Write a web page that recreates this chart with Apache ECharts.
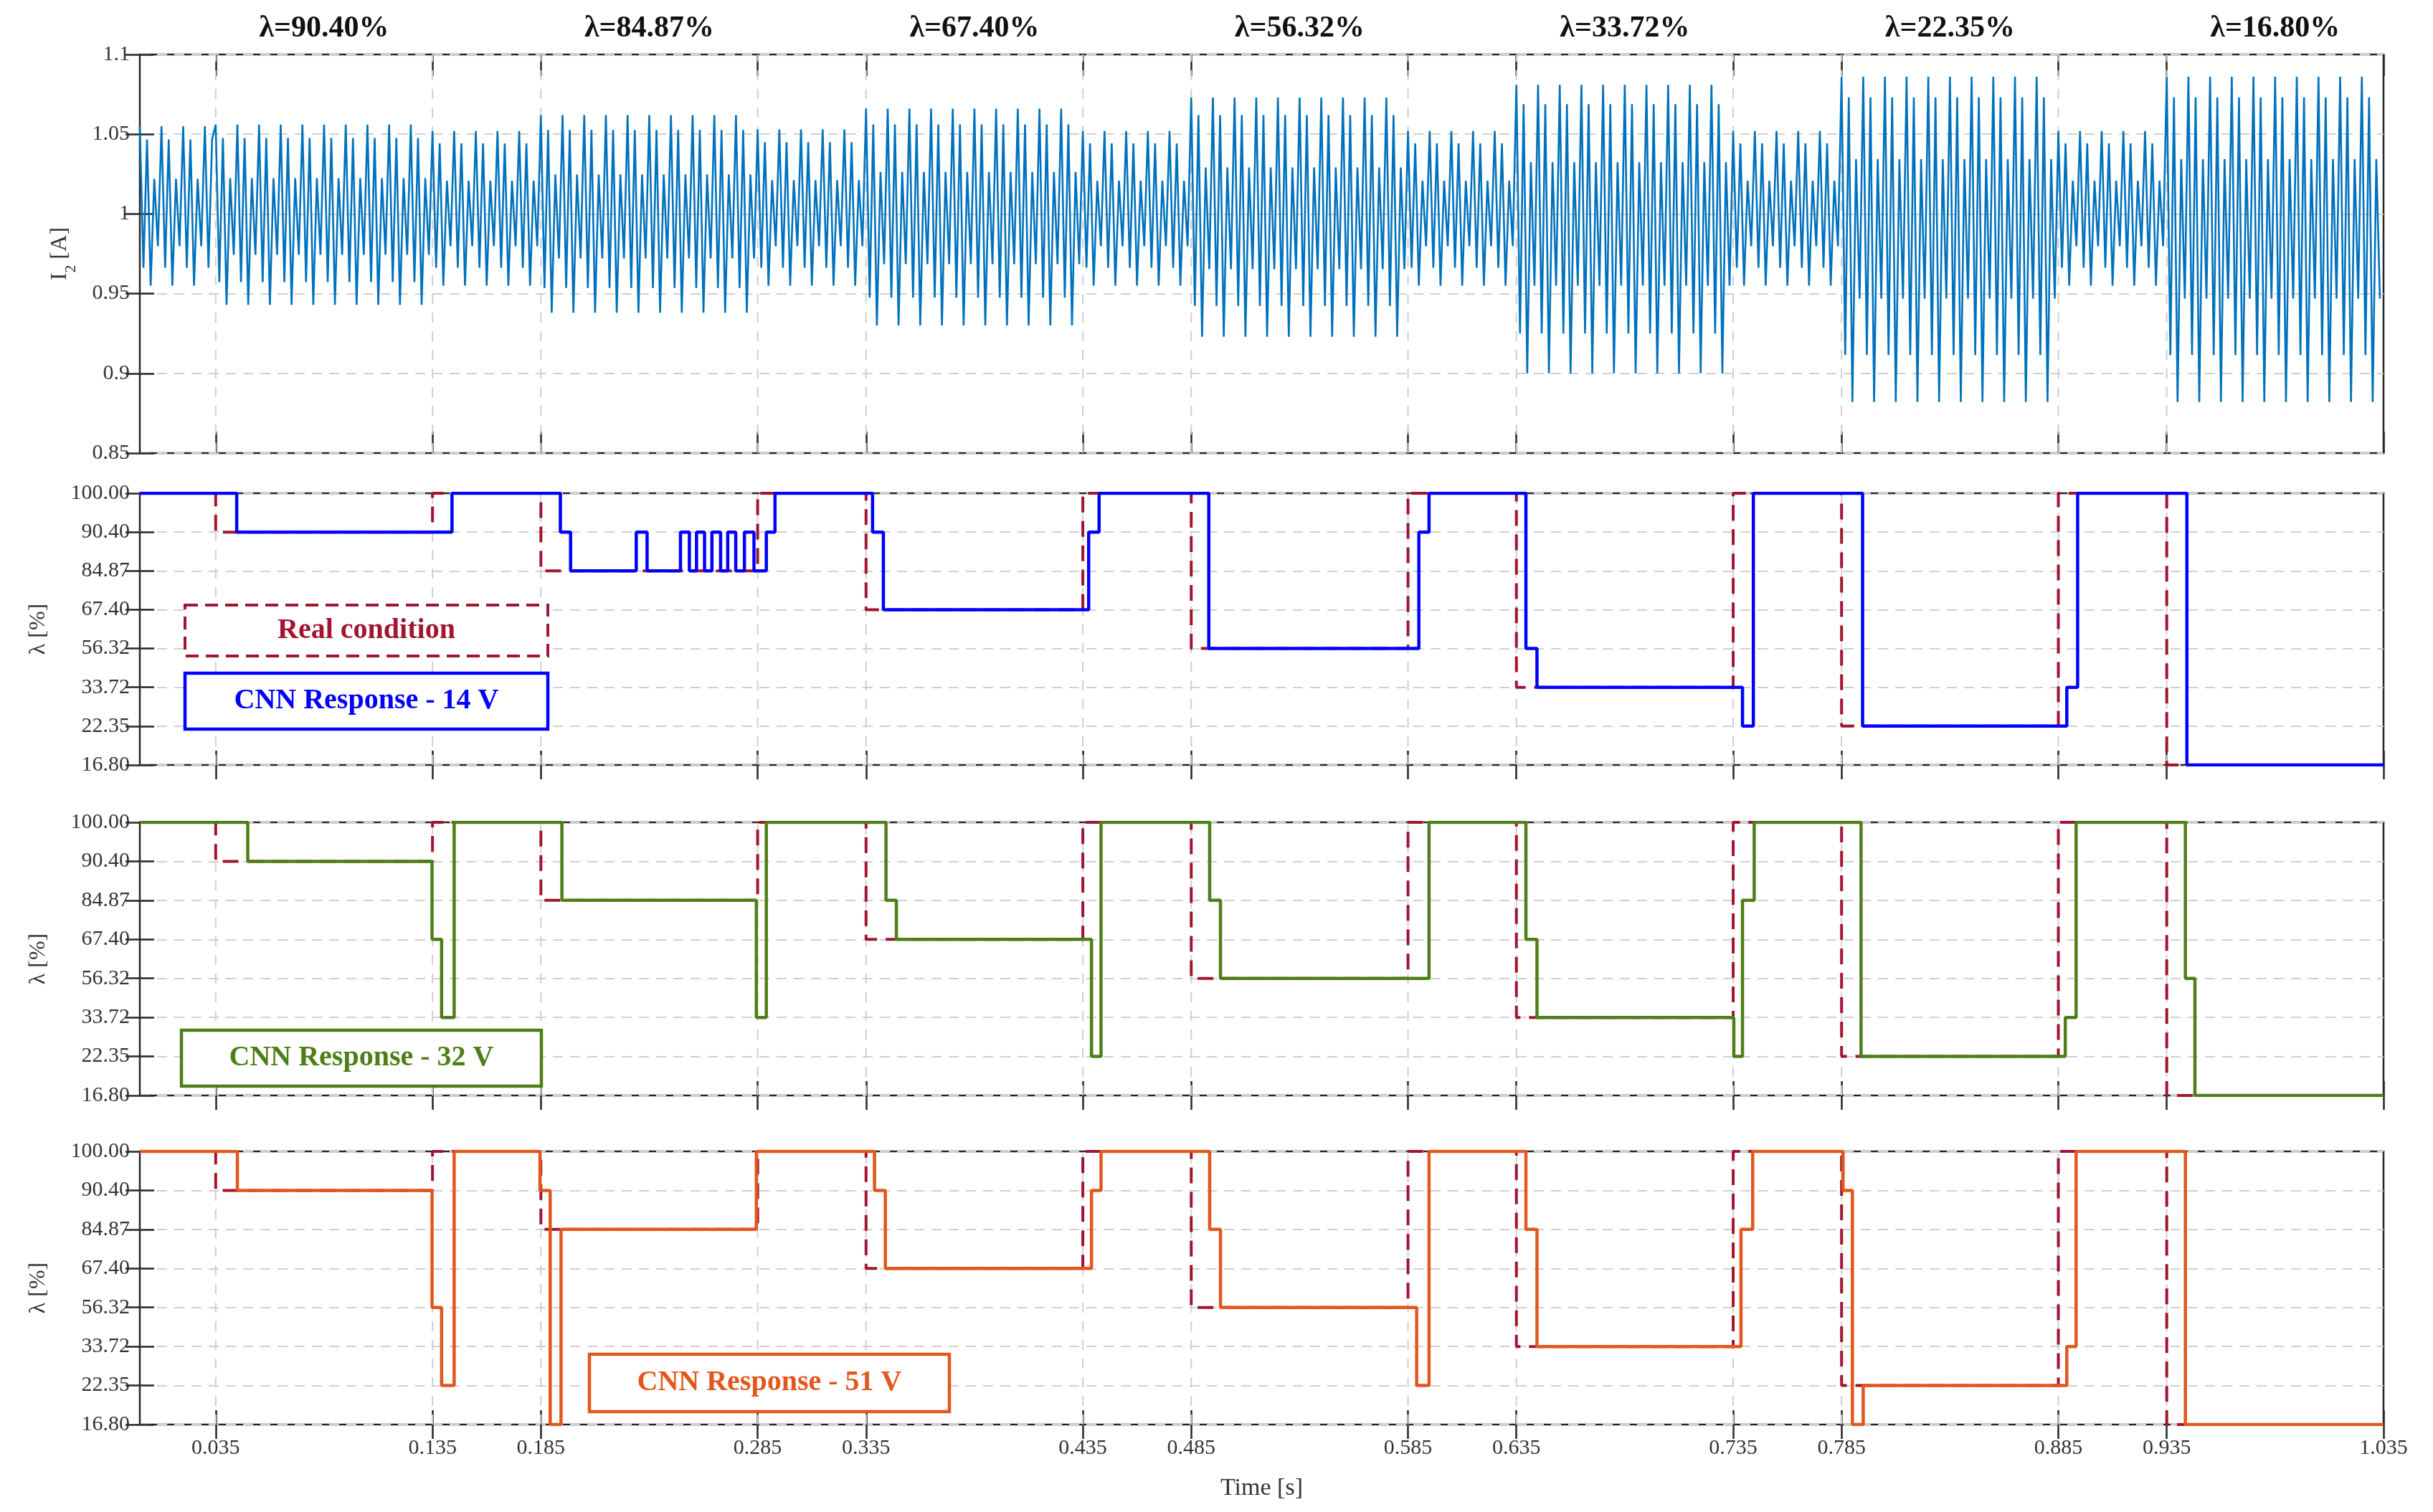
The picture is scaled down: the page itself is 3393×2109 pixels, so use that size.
<!DOCTYPE html>
<html><head><meta charset="utf-8">
<script src="https://cdn.jsdelivr.net/npm/echarts@6/dist/echarts.min.js"></script>
<style>html,body{margin:0;padding:0;background:#fff}#c{width:3393px;height:2109px}</style>
</head><body><div id="c"></div>
<script>
// ---- data ----
const xTicks = [0.035,0.135,0.185,0.285,0.335,0.435,0.485,0.585,0.635,0.735,0.785,0.885,0.935,1.035];
const levels = [16.80,22.35,33.72,56.32,67.40,84.87,90.40,100.00];
const levelLabels = ['16.80','22.35','33.72','56.32','67.40','84.87','90.40','100.00'];
const i2Ticks = ['0.85','0.9','0.95','1','1.05','1.1'];

const realT = [0,0.035,0.135,0.185,0.285,0.335,0.435,0.485,0.585,0.635,0.735,0.785,0.885,0.935,1.035];
const realL = [100,90.40,100,84.87,100,67.40,100,56.32,100,33.72,100,22.35,100,16.80,16.80];

const cnn14T = [0,0.0447,0.144,0.194,0.1987,0.229,0.234,0.2494,0.2535,0.2568,0.2605,0.2639,0.2679,0.2712,0.2749,0.2789,0.2833,0.289,0.293,0.338,0.343,0.4377,0.4425,0.4931,0.590,0.5947,0.6394,0.6445,0.7393,0.7443,0.7947,0.8889,0.8939,0.9443,1.035];
const cnn14L = [100,90.40,100,90.40,84.87,90.40,84.87,90.40,84.87,90.40,84.87,90.40,84.87,90.40,84.87,90.40,84.87,90.40,100,90.40,67.40,90.40,100,56.32,90.40,100,56.32,33.72,22.35,100,22.35,33.72,100,16.80,16.80];

const cnn32T = [0,0.0498,0.1348,0.1392,0.145,0.1947,0.2844,0.289,0.3442,0.349,0.439,0.4434,0.4935,0.4985,0.5947,0.6394,0.6445,0.7353,0.7393,0.7447,0.794,0.8882,0.8932,0.9436,0.948,1.035];
const cnn32L = [100,90.40,67.40,33.72,100,84.87,33.72,100,84.87,67.40,22.35,100,84.87,56.32,100,67.40,33.72,22.35,84.87,100,22.35,33.72,100,56.32,16.80,16.80];

const cnn51T = [0,0.045,0.1348,0.1392,0.145,0.1846,0.1893,0.1943,0.2844,0.3389,0.3439,0.439,0.4434,0.4935,0.4985,0.589,0.5947,0.6394,0.6445,0.7386,0.744,0.7857,0.790,0.795,0.8889,0.8932,0.9436,1.035];
const cnn51L = [100,90.40,56.32,22.35,100,90.40,16.80,84.87,100,90.40,67.40,90.40,100,84.87,56.32,22.35,100,84.87,33.72,84.87,100,90.40,16.80,22.35,33.72,100,16.80,16.80];

// I2 ripple: per-segment envelope
const waveStart = [0,0.035,0.135,0.185,0.285,0.335,0.435,0.485,0.585,0.635,0.735,0.785,0.885,0.935];
const waveEnd   = [0.035,0.135,0.185,0.285,0.335,0.435,0.485,0.585,0.635,0.735,0.785,0.885,0.935,1.035];
const waveHi = [1.055,1.056,1.052,1.062,1.053,1.066,1.052,1.073,1.052,1.081,1.052,1.086,1.052,1.086];
const waveLo = [0.955,0.943,0.955,0.938,0.955,0.930,0.955,0.923,0.955,0.900,0.955,0.882,0.955,0.882];
const shapeUp = [1.0,0.85,0.4];
const shapeDown = [0.75,1.0,0.45];
const ripplePeriod = 0.01;

// ---- build ----
function stepData(T,L){return T.map((t,i)=>[t,levels.indexOf(L[i])]);}
const wave=[];
for(let s=0;s<waveStart.length;s++){
  const dt=ripplePeriod/6;
  for(let t=waveStart[s],k=0;t<waveEnd[s]-1e-9;t+=dt,k++){
    const j=Math.floor(k/2)%3;
    const v = (k%2===0)?1+(waveHi[s]-1)*shapeUp[j]:1-(1-waveLo[s])*shapeDown[j];
    wave.push([+t.toFixed(5),v]);
  }
}
const grids=[{top:76,bottom:2109-632},{top:688,bottom:2109-1067},{top:1147,bottom:2109-1528},{top:1606,bottom:2109-1987}];
const FONT='Liberation Serif';
const xAxes=[],yAxes=[],series=[];
grids.forEach((g,i)=>{
  g.left=195;g.right=69;g.show=true;g.borderColor='#262626';g.borderWidth=2.5;
  xAxes.push({type:'value',gridIndex:i,min:0,max:1.035,position:'bottom',
    axisLine:{show:false},
    axisTick:{show:true,inside:true,length:i===0?30:20,customValues:xTicks,lineStyle:{color:'#262626',width:2.5}},
    axisLabel:{show:i===3,customValues:xTicks,formatter:v=>v.toFixed(3),fontFamily:FONT,fontSize:30,color:'#333',margin:18},
    splitLine:{show:false},
    name:i===3?'Time [s]':'',nameLocation:'middle',nameGap:72,nameTextStyle:{fontFamily:FONT,fontSize:34,color:'#333'}});
  xAxes.push({type:'value',gridIndex:i,min:0,max:1.035,position:'top',axisLine:{show:false},
    axisTick:{show:true,inside:true,length:i===0?30:20,customValues:xTicks,lineStyle:{color:'#262626',width:2.5}},
    axisLabel:{show:false},splitLine:{show:false}});
  const isTop=i===0;
  const yMin=isTop?0.85:0, yMax=isTop?1.1:7;
  const common={type:'value',gridIndex:i,axisLine:{show:false},
    min:yMin,max:yMax,interval:isTop?0.05:1,
    splitLine:{show:true,lineStyle:{type:[14,10],color:'#d0d0d0',width:2}}};
  yAxes.push(Object.assign({},common,{position:'left',
    axisTick:{show:true,inside:true,length:20,lineStyle:{color:'#262626',width:2.5}},
    axisLabel:{fontFamily:FONT,fontSize:30,color:'#333',margin:14,
      formatter:(v)=>isTop?i2Ticks[Math.round((v-0.85)/0.05)]:levelLabels[Math.round(v)]},
    name:isTop?'{a|I}{s|2}{a| [A]}':'λ [%]',nameLocation:'middle',nameGap:isTop?95:125,nameRotate:90,
    nameTextStyle:{fontFamily:FONT,fontSize:32,color:'#333',rich:{a:{fontFamily:FONT,fontSize:32,color:'#333'},s:{fontFamily:FONT,fontSize:22,color:'#333',verticalAlign:'bottom',padding:[0,0,-10,0]}}}}));
  yAxes.push(Object.assign({},common,{position:'right',splitLine:{show:false},
    axisTick:{show:true,inside:true,length:20,lineStyle:{color:'#262626',width:2.5}},axisLabel:{show:false}}));
  // vertical dashed grid lines at the time ticks
  xTicks.slice(0,-1).forEach(v=>{
    series.push({type:'line',xAxisIndex:2*i,yAxisIndex:2*i,data:[[v,yMin],[v,yMax]],showSymbol:false,silent:true,z:1,
      lineStyle:{type:[14,12],color:'#cfcfcf',width:2}});
  });
});
series.push({type:'line',xAxisIndex:0,yAxisIndex:0,data:wave,showSymbol:false,lineStyle:{color:'#0072BD',width:2.6},z:5});
const realColor='#A2142F';
[[cnn14T,cnn14L,'#0000FF'],[cnn32T,cnn32L,'#4E7F17'],[cnn51T,cnn51L,'#E2571C']].forEach((d,k)=>{
  const gi=k+1;
  series.push({type:'line',xAxisIndex:2*gi,yAxisIndex:2*gi,step:'end',data:stepData(realT,realL),showSymbol:false,
    lineStyle:{color:realColor,width:4,type:[22,12]},z:4});
  series.push({type:'line',xAxisIndex:2*gi,yAxisIndex:2*gi,step:'end',data:stepData(d[0],d[1]),showSymbol:false,
    lineStyle:{color:d[2],width:4.5},z:5});
});
const chart=echarts.init(document.getElementById('c'),null,{renderer:'canvas'});
chart.setOption({animation:false,backgroundColor:'#fff',grid:grids,xAxis:xAxes,yAxis:yAxes,series:series});

function box(x,y,w,h,color,text,dashed){
  return [{type:'rect',shape:{x:x,y:y,width:w,height:h},style:{fill:'#fff',stroke:color,lineWidth:dashed?4:4.5,lineDash:dashed?[18,10]:null},z:100},
    {type:'text',x:x+w/2,y:y+h/2,style:{text:text,fill:color,font:'bold 40px "Liberation Serif"',align:'center',verticalAlign:'middle'},z:101}];
}
let gfx=[].concat(
  box(258,844,506,71,'#A2142F','Real condition',true),
  box(258,939,506,78,'#0000FF','CNN Response - 14 V',false),
  box(253,1437,502,78,'#4E7F17','CNN Response - 32 V',false),
  box(822,1889,502,80,'#E2571C','CNN Response - 51 V',false));
for(let i=0;i<realL.length-1;i++){
  if(realL[i]<100){
    const mid=(realT[i]+realT[i+1])/2;
    const px=chart.convertToPixel({xAxisIndex:0},mid);
    gfx.push({type:'text',x:px,y:40,style:{text:'λ='+realL[i].toFixed(2)+'%',fill:'#111',font:'bold 42px "Liberation Serif"',align:'center',verticalAlign:'middle'},z:100});
  }
}
chart.setOption({graphic:gfx});
</script></body></html>
